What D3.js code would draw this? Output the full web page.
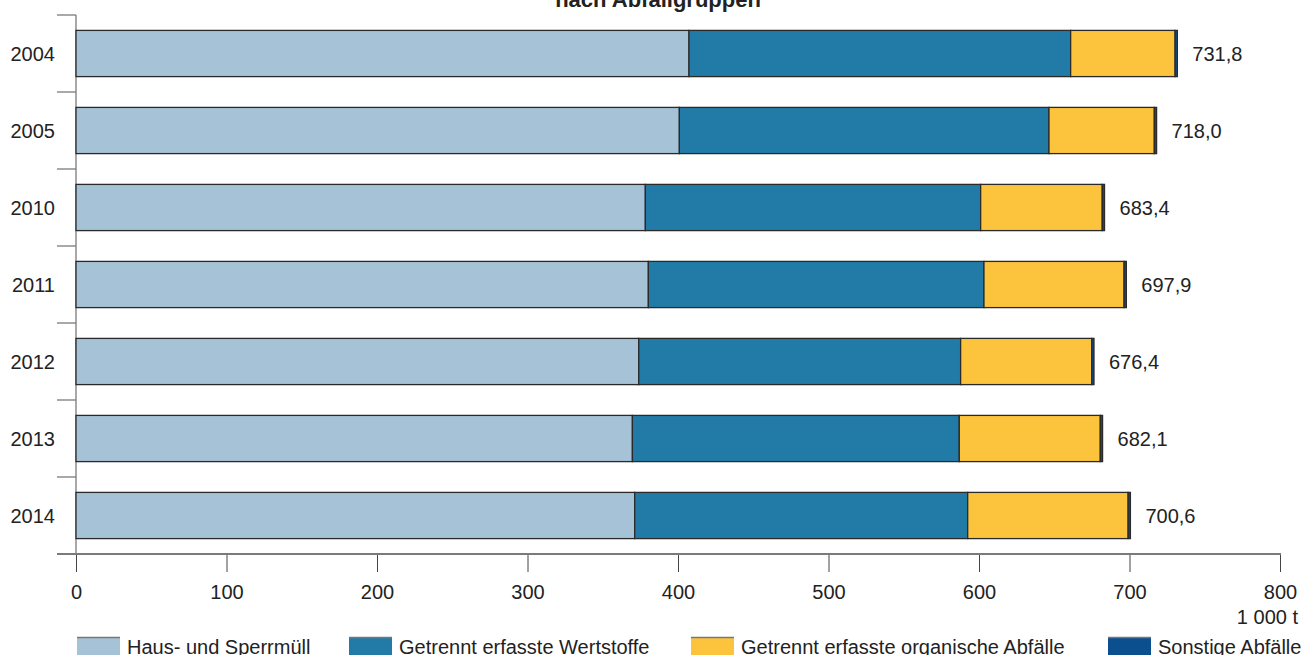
<!DOCTYPE html>
<html>
<head>
<meta charset="utf-8">
<script src="https://cdn.jsdelivr.net/npm/d3@7"></script>
<style>
  body { margin: 0; background: #fff; }
  svg { display: block; font-family: "Liberation Sans", Arial, sans-serif; }
</style>
</head>
<body>
<script>
(function () {
  'use strict';

  // data (1 000 t)
  const years = ['2004', '2005', '2010', '2011', '2012', '2013', '2014'];
  const haus = [407.3, 400.9, 378.3, 380.3, 373.9, 369.7, 371.2];
  const wertstoffe = [253.6, 245.6, 222.8, 223.0, 213.9, 217.2, 221.3];
  const organisch = [69.4, 70.0, 80.8, 93.1, 87.1, 93.7, 106.6];
  const sonstige = [1.5, 1.5, 1.5, 1.5, 1.5, 1.5, 1.5];
  const totals = ['731,8', '718,0', '683,4', '697,9', '676,4', '682,1', '700,6'];
  const xTicks = [0, 100, 200, 300, 400, 500, 600, 700, 800];

  const seriesNames = ['Haus- und Sperrmüll', 'Getrennt erfasste Wertstoffe',
    'Getrennt erfasste organische Abfälle', 'Sonstige Abfälle'];
  const colors = ['#a5c2d7', '#227ba7', '#fcc43c', '#0b4f8f'];

  const W = 1302, H = 655;
  const svg = d3.select('body').append('svg')
    .attr('width', W).attr('height', H);

  const rows = years.map((y, i) => ({
    year: y, haus: haus[i], wert: wertstoffe[i], org: organisch[i], sonst: sonstige[i]
  }));
  const keys = ['haus', 'wert', 'org', 'sonst'];
  const stack = d3.stack().keys(keys)(rows);

  const xScale = d3.scaleLinear().domain([0, 800]).range([76, 1280]);
  const yScale = d3.scaleBand().domain(years).range([15, 554])
    .paddingInner(0.4).paddingOuter(0.2);

  // title (cut at the top like the reference)
  svg.append('text')
    .attr('x', 658).attr('y', 6.5)
    .attr('text-anchor', 'middle')
    .attr('font-size', '22px').attr('font-weight', 'bold')
    .attr('fill', '#222')
    .text('nach Abfallgruppen');

  // ===== y axis =====
  const axisColor = '#7a7a7a';
  const step = yScale.step();
  const bounds = d3.range(years.length + 1).map(i => 15 + i * step);
  svg.append('line')
    .attr('x1', 76).attr('x2', 76)
    .attr('y1', 15).attr('y2', 554)
    .attr('stroke', axisColor).attr('stroke-width', 1.3);
  svg.append('g').selectAll('line').data(bounds).enter().append('line')
    .attr('x1', 57).attr('x2', 76)
    .attr('y1', d => d).attr('y2', d => d)
    .attr('stroke', axisColor).attr('stroke-width', 1.3);

  svg.append('g').selectAll('text').data(years).enter().append('text')
    .attr('x', 55)
    .attr('y', d => yScale(d) + yScale.bandwidth() / 2)
    .attr('dy', '0.35em')
    .attr('text-anchor', 'end')
    .attr('font-size', '20px').attr('fill', '#222')
    .text(d => d);

  // ===== x axis =====
  const xAxis = d3.axisBottom(xScale)
    .tickValues(xTicks)
    .tickSize(18)
    .tickPadding(13)
    .tickFormat(d3.format('d'));

  const gx = svg.append('g')
    .attr('transform', 'translate(0,554)')
    .call(xAxis);
  gx.select('.domain').remove();
  gx.selectAll('.tick line').attr('stroke', '#444').attr('stroke-width', 1);
  gx.selectAll('.tick text')
    .attr('font-size', '20px').attr('fill', '#222')
    .attr('font-family', '"Liberation Sans", Arial, sans-serif');
  svg.append('line')
    .attr('x1', 57).attr('x2', 1281)
    .attr('y1', 554).attr('y2', 554)
    .attr('stroke', axisColor).attr('stroke-width', 2);

  svg.append('text')
    .attr('x', 1298).attr('y', 624)
    .attr('text-anchor', 'end')
    .attr('font-size', '20px').attr('fill', '#222')
    .text('1 000 t');

  // ===== bars =====
  const layers = svg.append('g').selectAll('g')
    .data(stack).enter().append('g')
    .attr('fill', (d, i) => colors[i]);

  layers.selectAll('rect')
    .data(d => d).enter().append('rect')
    .attr('x', d => xScale(d[0]))
    .attr('width', d => xScale(d[1]) - xScale(d[0]))
    .attr('y', d => yScale(d.data.year))
    .attr('height', yScale.bandwidth())
    .attr('stroke', '#2a2a2a')
    .attr('stroke-width', 1.3);

  // totals
  svg.append('g').selectAll('text').data(rows).enter().append('text')
    .attr('x', (d, i) => xScale(stack[3][i][1]) + 15)
    .attr('y', d => yScale(d.year) + yScale.bandwidth() / 2)
    .attr('dy', '0.35em')
    .attr('font-size', '20px').attr('fill', '#222')
    .text((d, i) => totals[i]);

  // ===== legend =====
  const legendX = [77, 349, 691, 1108];
  const lg = svg.append('g').selectAll('g')
    .data(seriesNames).enter().append('g')
    .attr('transform', (d, i) => `translate(${legendX[i]},637)`);
  lg.append('rect')
    .attr('width', 43).attr('height', 22)
    .attr('fill', (d, i) => colors[i]);
  lg.append('line')
    .attr('x1', 0).attr('x2', 43).attr('y1', 0.5).attr('y2', 0.5)
    .attr('stroke', '#777').attr('stroke-width', 1.5);
  lg.append('text')
    .attr('x', 50).attr('y', 17)
    .attr('font-size', '20px').attr('fill', '#222')
    .text(d => d);
})();
</script>
</body>
</html>
